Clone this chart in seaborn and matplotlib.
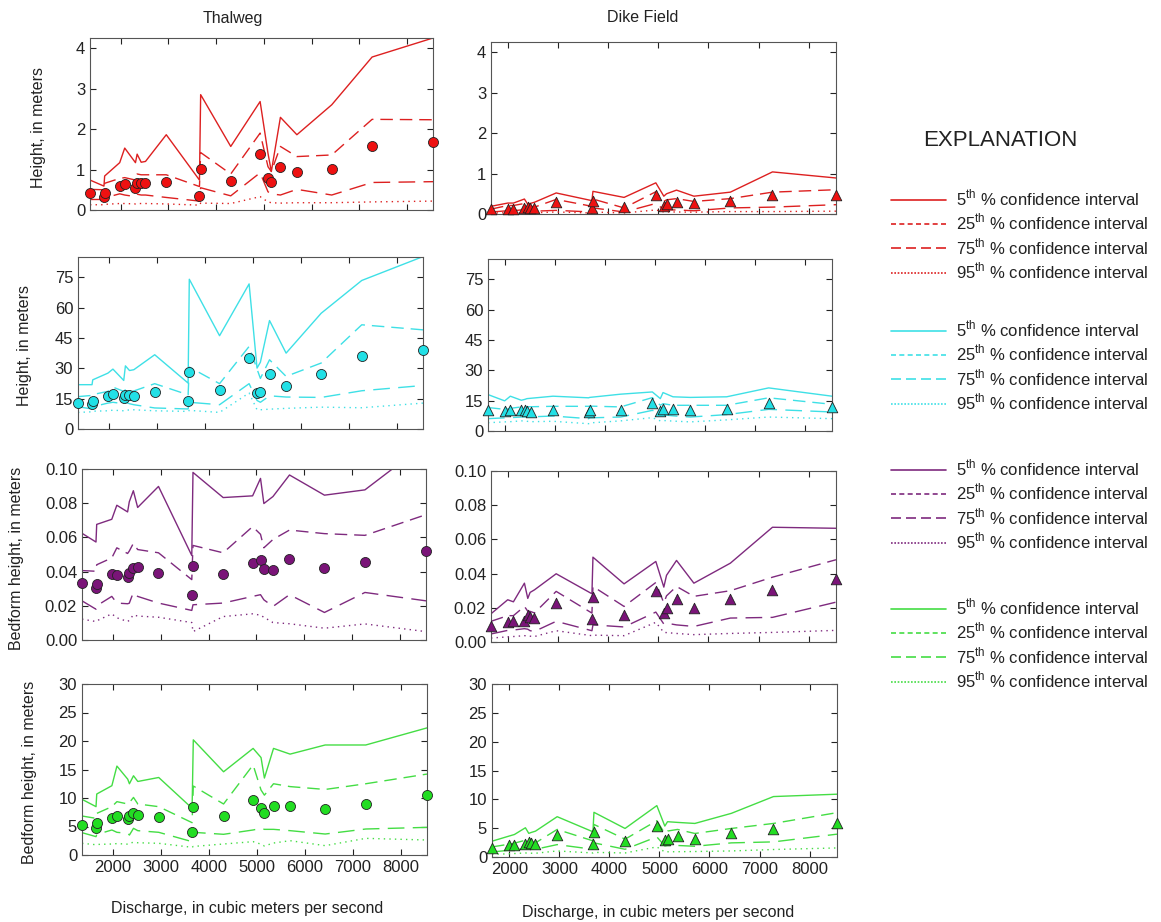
import matplotlib
matplotlib.use("Agg")
import matplotlib.pyplot as plt
from matplotlib.lines import Line2D
import numpy as np
import pandas as pd
import seaborn as sns

# discharge of each survey, m3/s
Q_THAL = [1358, 1650, 1665, 1980, 2085, 2310, 2345, 2430, 2520, 2955, 3650,
          3675, 4305, 4920, 5085, 5155, 5345, 5690, 6420, 7265, 8540]
Q_DIKE = [1652, 1986, 2100, 2320, 2387, 2434, 2521, 2955, 3670, 3690, 4312,
          4947, 5107, 5161, 5361, 5708, 6437, 7279, 8549]

# row 1 (red)
RED_THAL_PTS = [0.41, 0.33, 0.43, 0.60, 0.65, 0.55, 0.66, 0.67, 0.67, 0.69, 0.35,
                1.01, 0.71, 1.39, 0.78, 0.70, 1.07, 0.95, 1.02, 1.59, 1.67]
RED_THAL_P5 = [0.74, 0.59, 0.84, 1.17, 1.53, 1.17, 1.38, 1.18, 1.20, 1.86, 0.74,
               2.85, 1.57, 2.68, 1.40, 0.95, 2.29, 1.86, 2.60, 3.78, 4.25]
RED_THAL_P25 = [0.51, 0.50, 0.66, 0.78, 0.80, 0.74, 0.89, 0.87, 0.87, 0.87, 0.58,
                1.42, 0.89, 1.90, 1.07, 0.95, 1.57, 1.32, 1.36, 2.24, 2.23]
RED_THAL_P75 = [0.26, 0.26, 0.30, 0.40, 0.37, 0.33, 0.39, 0.37, 0.37, 0.31, 0.22,
                0.55, 0.35, 0.92, 0.45, 0.40, 0.37, 0.51, 0.37, 0.68, 0.70]
RED_THAL_P95 = [0.13, 0.13, 0.14, 0.16, 0.16, 0.15, 0.16, 0.16, 0.16, 0.15, 0.12,
                0.17, 0.16, 0.33, 0.20, 0.18, 0.17, 0.18, 0.18, 0.20, 0.22]
RED_DIKE_PTS = [0.12, 0.13, 0.13, 0.16, 0.17, 0.15, 0.15, 0.29, 0.15, 0.31, 0.17,
                0.48, 0.19, 0.25, 0.30, 0.26, 0.31, 0.46, 0.48]
RED_DIKE_P5 = [0.19, 0.27, 0.27, 0.37, 0.24, 0.26, 0.29, 0.52, 0.33, 0.56, 0.41,
               0.77, 0.44, 0.50, 0.59, 0.44, 0.54, 1.04, 0.89]
RED_DIKE_P25 = [0.12, 0.21, 0.21, 0.26, 0.30, 0.20, 0.17, 0.36, 0.19, 0.37, 0.15,
                0.55, 0.31, 0.35, 0.38, 0.31, 0.38, 0.54, 0.60]
RED_DIKE_P75 = [0.05, 0.08, 0.08, 0.11, 0.12, 0.09, 0.07, 0.09, 0.05, 0.15, 0.05,
                0.26, 0.11, 0.10, 0.10, 0.08, 0.15, 0.17, 0.23]
RED_DIKE_P95 = [0.025, 0.03, 0.03, 0.04, 0.04, 0.035, 0.03, 0.05, 0.025, 0.05, 0.025,
                0.10, 0.05, 0.05, 0.05, 0.045, 0.06, 0.06, 0.07]

# row 2 (cyan)
CYAN_THAL_PTS = [12.8, 12.5, 14.0, 16.1, 17.4, 15.3, 16.9, 16.6, 16.1, 18.3, 14.0,
                 28.0, 19.1, 35.0, 17.8, 18.1, 27.3, 21.4, 27.1, 36.2, 39.1]
CYAN_THAL_P5 = [21.9, 21.9, 24.3, 27.6, 29.6, 24.0, 31.2, 28.9, 29.3, 36.7, 22.7,
                74.0, 46.1, 71.7, 30.1, 33.0, 53.6, 37.5, 57.2, 73.4, 85.2]
CYAN_THAL_P25 = [16.0, 16.6, 17.0, 18.6, 20.7, 18.6, 19.4, 19.0, 18.8, 22.4, 16.9,
                 30.6, 22.4, 40.8, 29.6, 25.0, 34.2, 26.0, 32.6, 51.5, 49.0]
CYAN_THAL_P75 = [11.0, 9.9, 11.0, 12.8, 13.2, 12.5, 13.2, 12.5, 12.0, 10.4, 9.9,
                 13.2, 12.0, 22.4, 14.1, 13.2, 16.4, 15.8, 15.6, 18.9, 21.5]
CYAN_THAL_P95 = [8.2, 8.5, 8.8, 9.0, 9.3, 9.0, 9.3, 9.4, 9.5, 9.0, 8.7,
                 9.2, 8.2, 17.8, 9.5, 9.5, 9.8, 10.2, 10.8, 10.5, 12.8]
CYAN_DIKE_PTS = [10.2, 9.7, 10.2, 10.2, 10.2, 9.7, 9.4, 10.6, 9.4, 10.2, 10.2,
                 13.9, 9.7, 11.1, 10.7, 10.2, 10.7, 14.0, 11.9]
CYAN_DIKE_P5 = [18.0, 14.9, 17.2, 15.2, 15.6, 16.0, 16.2, 17.2, 16.4, 16.6, 18.2,
                19.3, 16.0, 19.0, 16.9, 16.6, 16.9, 21.3, 17.2]
CYAN_DIKE_P25 = [11.6, 10.7, 11.2, 11.9, 12.0, 12.0, 12.0, 12.2, 12.2, 12.3, 11.9,
                 16.5, 12.7, 13.5, 12.7, 12.7, 12.7, 16.4, 13.2]
CYAN_DIKE_P75 = [6.1, 6.5, 6.6, 6.9, 7.0, 7.0, 7.0, 7.4, 6.1, 6.5, 6.9,
                 10.2, 8.9, 8.0, 7.5, 6.9, 8.1, 10.7, 9.4]
CYAN_DIKE_P95 = [4.1, 4.5, 4.6, 5.0, 5.0, 4.8, 4.6, 4.8, 3.6, 4.0, 5.0,
                 6.6, 5.0, 5.2, 4.9, 4.5, 5.5, 6.9, 6.1]

# row 3 (purple)
PURP_THAL_PTS = [0.0333, 0.0304, 0.0329, 0.0386, 0.0378, 0.0369, 0.0392, 0.0422,
                 0.0425, 0.0392, 0.0265, 0.0435, 0.0388, 0.0451, 0.0467, 0.0418,
                 0.0412, 0.0475, 0.0420, 0.0455, 0.0520]
PURP_THAL_P5 = [0.0624, 0.0573, 0.0676, 0.0706, 0.0788, 0.0749, 0.0808, 0.0873,
                0.0775, 0.0898, 0.0494, 0.0980, 0.0833, 0.0843, 0.0945, 0.0798,
                0.0839, 0.0965, 0.0847, 0.0878, 0.1150]
PURP_THAL_P25 = [0.0406, 0.0402, 0.0440, 0.0480, 0.0539, 0.0506, 0.0520, 0.0565,
                 0.0529, 0.0510, 0.0353, 0.0553, 0.0510, 0.0663, 0.0618, 0.0539,
                 0.0588, 0.0643, 0.0622, 0.0612, 0.0733]
PURP_THAL_P75 = [0.0229, 0.0180, 0.0200, 0.0255, 0.0216, 0.0212, 0.0215, 0.0278,
                 0.0255, 0.0216, 0.0173, 0.0206, 0.0216, 0.0255, 0.0265, 0.0235,
                 0.0196, 0.0265, 0.0161, 0.0278, 0.0229]
PURP_THAL_P95 = [0.0122, 0.0108, 0.0112, 0.0153, 0.0130, 0.0108, 0.0115, 0.0147,
                 0.0140, 0.0133, 0.0102, 0.0049, 0.0137, 0.0153, 0.0145, 0.0133,
                 0.0102, 0.0095, 0.0069, 0.0094, 0.0049]
PURP_DIKE_PTS = [0.0091, 0.0117, 0.0125, 0.0121, 0.0160, 0.0146, 0.0140, 0.0228,
                 0.0134, 0.0263, 0.0160, 0.0296, 0.0169, 0.0198, 0.0253, 0.0198,
                 0.0251, 0.0302, 0.0370]
PURP_DIKE_P5 = [0.0165, 0.0247, 0.0235, 0.0344, 0.0255, 0.0290, 0.0305, 0.0399,
                0.0282, 0.0496, 0.0340, 0.0471, 0.0321, 0.0390, 0.0477, 0.0344,
                0.0461, 0.0671, 0.0665]
PURP_DIKE_P25 = [0.0121, 0.0154, 0.0154, 0.0208, 0.0180, 0.0179, 0.0170, 0.0296,
                 0.0169, 0.0325, 0.0208, 0.0348, 0.0228, 0.0270, 0.0325, 0.0267,
                 0.0300, 0.0379, 0.0481]
PURP_DIKE_P75 = [0.0047, 0.0068, 0.0070, 0.0078, 0.0075, 0.0066, 0.0062, 0.0121,
                 0.0066, 0.0100, 0.0088, 0.0175, 0.0105, 0.0110, 0.0100, 0.0091,
                 0.0140, 0.0144, 0.0233]
PURP_DIKE_P95 = [0.0023, 0.0030, 0.0032, 0.0037, 0.0036, 0.0034, 0.0032, 0.0066,
                 0.0037, 0.0040, 0.0037, 0.0115, 0.0056, 0.0055, 0.0050, 0.0043,
                 0.0050, 0.0056, 0.0068]

# row 4 (green)
GREEN_THAL_PTS = [5.26, 4.80, 5.56, 6.43, 6.90, 6.26, 6.90, 7.31, 7.02, 6.61, 4.09,
                  8.42, 6.78, 9.65, 8.19, 7.31, 8.54, 8.54, 8.01, 9.01, 10.58]
GREEN_THAL_P5 = [9.77, 8.48, 10.70, 12.16, 15.60, 13.30, 12.50, 13.90, 12.90, 13.60, 8.20,
                 20.20, 14.60, 18.70, 17.10, 13.50, 18.70, 17.70, 19.30, 19.30, 22.30]
GREEN_THAL_P25 = [6.84, 6.43, 7.30, 8.48, 9.36, 8.95, 9.20, 10.10, 8.95, 8.48, 5.67,
                  12.10, 8.95, 15.80, 11.40, 10.50, 12.50, 12.00, 11.50, 12.50, 14.20]
GREEN_THAL_P75 = [3.92, 3.22, 3.60, 4.39, 3.98, 3.80, 3.50, 4.68, 4.27, 3.98, 2.34,
                  3.98, 3.63, 4.39, 4.68, 4.50, 4.50, 4.27, 3.68, 4.56, 4.85]
GREEN_THAL_P95 = [2.05, 1.80, 1.85, 1.93, 2.00, 1.90, 2.10, 2.22, 2.15, 2.05, 1.35,
                  1.50, 1.93, 2.34, 1.90, 1.58, 2.10, 2.51, 1.64, 2.92, 2.63]
GREEN_DIKE_PTS = [1.57, 2.04, 2.04, 2.27, 2.62, 2.45, 2.33, 3.79, 2.21, 4.37, 2.74,
                  5.42, 2.91, 3.09, 3.67, 3.20, 4.19, 4.83, 5.94]
GREEN_DIKE_P5 = [2.74, 3.61, 3.90, 5.07, 4.10, 4.25, 4.48, 6.99, 4.37, 7.75, 4.95,
                 8.91, 5.36, 6.12, 6.00, 5.82, 7.57, 10.48, 10.89]
GREEN_DIKE_P25 = [1.75, 2.21, 2.40, 2.91, 2.70, 2.60, 2.45, 4.78, 2.80, 5.65, 3.09,
                  6.29, 4.08, 4.50, 4.78, 4.08, 4.95, 5.82, 7.69]
GREEN_DIKE_P75 = [0.87, 1.16, 1.25, 1.46, 1.40, 1.38, 1.34, 2.15, 1.34, 2.45, 1.34,
                  3.49, 1.92, 2.00, 2.00, 1.86, 2.45, 2.62, 3.96]
GREEN_DIKE_P95 = [0.47, 0.55, 0.60, 0.70, 0.68, 0.66, 0.65, 1.05, 0.70, 0.80, 0.70,
                  1.75, 0.87, 0.90, 0.92, 0.95, 1.05, 1.30, 1.57]

X_TICKS = [2000, 3000, 4000, 5000, 6000, 7000, 8000]
COL_TITLES = ["Thalweg", "Dike Field"]
XLABEL = "Discharge, in cubic meters per second"
CI_LABELS = ["5$^{\\mathrm{th}}$ % confidence interval",
             "25$^{\\mathrm{th}}$ % confidence interval",
             "75$^{\\mathrm{th}}$ % confidence interval",
             "95$^{\\mathrm{th}}$ % confidence interval"]

ROWS = [
    dict(pt="#ee1111", ln="#dd2020",
         thal=[RED_THAL_PTS, RED_THAL_P5, RED_THAL_P25, RED_THAL_P75, RED_THAL_P95],
         dike=[RED_DIKE_PTS, RED_DIKE_P5, RED_DIKE_P25, RED_DIKE_P75, RED_DIKE_P95],
         ylim=4.25, yticks=[0, 1, 2, 3, 4], fmt="{:.0f}", ylabel="Height, in meters"),
    dict(pt="#22e0e6", ln="#3ee0e6",
         thal=[CYAN_THAL_PTS, CYAN_THAL_P5, CYAN_THAL_P25, CYAN_THAL_P75, CYAN_THAL_P95],
         dike=[CYAN_DIKE_PTS, CYAN_DIKE_P5, CYAN_DIKE_P25, CYAN_DIKE_P75, CYAN_DIKE_P95],
         ylim=85, yticks=[0, 15, 30, 45, 60, 75], fmt="{:.0f}", ylabel="Height, in meters"),
    dict(pt="#7a1478", ln="#7e2a7e",
         thal=[PURP_THAL_PTS, PURP_THAL_P5, PURP_THAL_P25, PURP_THAL_P75, PURP_THAL_P95],
         dike=[PURP_DIKE_PTS, PURP_DIKE_P5, PURP_DIKE_P25, PURP_DIKE_P75, PURP_DIKE_P95],
         ylim=0.10, yticks=[0, 0.02, 0.04, 0.06, 0.08, 0.10], fmt="{:.2f}",
         ylabel="Bedform height, in meters"),
    dict(pt="#22dd22", ln="#44dd44",
         thal=[GREEN_THAL_PTS, GREEN_THAL_P5, GREEN_THAL_P25, GREEN_THAL_P75, GREEN_THAL_P95],
         dike=[GREEN_DIKE_PTS, GREEN_DIKE_P5, GREEN_DIKE_P25, GREEN_DIKE_P75, GREEN_DIKE_P95],
         ylim=30, yticks=[0, 5, 10, 15, 20, 25, 30], fmt="{:.0f}",
         ylabel="Bedform height, in meters"),
]

# pixel boxes (x0, y0, x1, y1) of every panel
BOXES = [[(90, 38, 433, 210), (491, 42, 836, 214)],
         [(78, 257, 423, 429), (488, 259, 832, 431)],
         [(82, 469, 426, 640), (491, 471, 836, 642)],
         [(82, 684, 427, 855), (492, 684, 837, 857)]]
YLABEL_POS = [(38, 127), (25, 345), (17, 558), (30, 772)]

LINESTYLES = ["-", (0, (9, 5)), (0, (12, 6)), (0, (1, 3))]
LEG_STYLES = ["-", (0, (3, 2)), (0, (6, 3)), (0, (1, 1))]

sns.set_style("ticks")
plt.rcParams["font.family"] = ["Liberation Sans", "DejaVu Sans"]
plt.rcParams["mathtext.fontset"] = "custom"
plt.rcParams["mathtext.rm"] = "Liberation Sans"

W, H = 1161, 922
fig = plt.figure(figsize=(W / 100, H / 100), dpi=100)
TXT = "#222222"


def add_ax(box):
    x0, y0, x1, y1 = box
    return fig.add_axes([x0 / W, 1 - y1 / H, (x1 - x0) / W, (y1 - y0) / H])


def draw_panel(ax, q, series, row, marker):
    pts = series[0]
    for vals, ls in zip(series[1:], LINESTYLES):
        df = pd.DataFrame({"q": q, "v": vals})
        sns.lineplot(data=df, x="q", y="v", ax=ax, color=row["ln"], lw=1.0,
                     linestyle=ls, estimator=None, sort=True)
    df = pd.DataFrame({"q": q, "v": pts})
    sns.scatterplot(data=df, x="q", y="v", ax=ax, color=row["pt"], marker=marker,
                    s=52 if marker == "o" else 58, edgecolor="#222222",
                    linewidth=0.6, zorder=5, clip_on=False)
    ax.set_xlim(min(q), max(q))
    ax.set_ylim(0, row["ylim"])
    ax.set_xticks(X_TICKS)
    ax.set_yticks(row["yticks"])
    ax.set_yticklabels([row["fmt"].format(t) for t in row["yticks"]])
    ax.set_xlabel("")
    ax.set_ylabel("")
    ax.tick_params(direction="in", top=True, right=True, length=4, width=0.8,
                   labelsize=12, colors=TXT)
    for sp in ax.spines.values():
        sp.set_visible(True)
        sp.set_color("#555555")
        sp.set_linewidth(0.8)


for r, row in enumerate(ROWS):
    ax_t = add_ax(BOXES[r][0])
    ax_d = add_ax(BOXES[r][1])
    draw_panel(ax_t, Q_THAL, row["thal"], row, "o")
    draw_panel(ax_d, Q_DIKE, row["dike"], row, "^")
    if r < 3:
        ax_t.set_xticklabels([])
        ax_d.set_xticklabels([])
    else:
        ax_t.set_xticklabels([str(t) for t in X_TICKS])
        ax_d.set_xticklabels([str(t) for t in X_TICKS])
    lx, ly = YLABEL_POS[r]
    fig.text(lx / W, 1 - ly / H, row["ylabel"], rotation=90, ha="center",
             va="center", fontsize=11.5, color=TXT)

fig.text(233 / W, 1 - 18 / H, COL_TITLES[0], ha="center", va="center", fontsize=11.5, color=TXT)
fig.text(643 / W, 1 - 18 / H, COL_TITLES[1], ha="center", va="center", fontsize=11.5, color=TXT)
fig.text(247 / W, 1 - 908 / H, XLABEL, ha="center", va="center", fontsize=11.5, color=TXT)
fig.text(658 / W, 1 - 912 / H, XLABEL, ha="center", va="center", fontsize=11.5, color=TXT)

# explanation
fig.text(1000 / W, 1 - 140 / H, "EXPLANATION", ha="center", va="center", fontsize=16,
         color=TXT)
LEG_TOPS = [188, 319, 458, 597]
for row, top in zip(ROWS, LEG_TOPS):
    handles = [Line2D([], [], color=row["ln"], lw=1.2, linestyle=ls) for ls in LEG_STYLES]
    leg = fig.legend(handles, CI_LABELS, loc="upper left",
                     bbox_to_anchor=(891 / W, 1 - top / H), frameon=False,
                     fontsize=12, handlelength=3.3, handletextpad=0.6,
                     labelspacing=0.22, borderpad=0, borderaxespad=0)
    for t in leg.get_texts():
        t.set_color(TXT)

fig.savefig("out.png", dpi=100)
